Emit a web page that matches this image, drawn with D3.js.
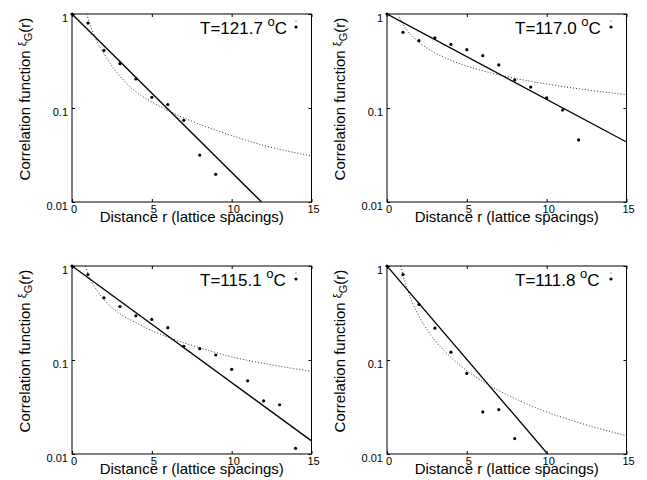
<!DOCTYPE html>
<html>
<head>
<meta charset="utf-8">
<script src="https://cdn.jsdelivr.net/npm/d3@7/dist/d3.min.js"></script>
<style>
  body { margin: 0; background: #fff; }
  text { font-family: "Liberation Sans", Arial, Helvetica, sans-serif; }
</style>
</head>
<body>
<script>
// temperatures shown in each panel
var temps = ["121.7", "117.0", "115.1", "111.8"];

// measured correlation values, r = 0, 1, 2, ...
var corr1 = [1, 0.80, 0.41, 0.296, 0.204, 0.130, 0.109, 0.074, 0.0316, 0.0197];
var corr2 = [1, 0.638, 0.52, 0.556, 0.476, 0.417, 0.36, 0.287, 0.199, 0.167, 0.128, 0.095, 0.0457];
var corr3 = [1, 0.81, 0.459, 0.371, 0.295, 0.27, 0.221, 0.14, 0.132, 0.113, 0.0795, 0.060, 0.0368, 0.0334, 0.0115];
var corr4 = [1, 0.81, 0.39, 0.218, 0.121, 0.072, 0.028, 0.0297, 0.0146];

// exponential fit (solid), end points
var expR = [[0, 11.87], [0, 15], [0, 15], [0, 10.06]];
var expV = [[1, 0.01], [1, 0.0435], [1, 0.0138], [1, 0.01]];

// power-law fit (dotted)
var powR1 = [0.92, 1, 1.5, 2, 3, 4, 5, 6, 8, 10, 12, 15];
var powV1 = [1, 0.9, 0.54, 0.38, 0.218, 0.149, 0.116, 0.094, 0.067, 0.051, 0.040, 0.031];
var powR2 = [0.67, 1, 1.5, 2, 3, 4, 5, 6, 8, 10, 12, 15];
var powV2 = [1, 0.776, 0.600, 0.500, 0.386, 0.322, 0.279, 0.249, 0.207, 0.180, 0.160, 0.139];
var powR3 = [0.86, 1, 1.5, 2, 3, 4, 5, 6, 8, 10, 12, 15];
var powV3 = [1, 0.83, 0.57, 0.44, 0.31, 0.25, 0.205, 0.175, 0.135, 0.108, 0.092, 0.0757];
var powR4 = [0.86, 1, 1.5, 2, 3, 4, 5, 6, 8, 10, 12, 15];
var powV4 = [1, 0.804, 0.446, 0.293, 0.162, 0.107, 0.077, 0.059, 0.039, 0.028, 0.0216, 0.0156];

var xTicks = [0, 5, 10, 15];
var yTicks = [1, 0.1, 0.01];

var corrs = [corr1, corr2, corr3, corr4];
var powR = [powR1, powR2, powR3, powR4];
var powV = [powV1, powV2, powV3, powV4];

var panelX = [72, 387, 72, 387],
    panelY = [14, 14, 266, 266],
    pw = 239.5,
    ph = 188;

var svg = d3.select("body").append("svg")
  .attr("width", 647)
  .attr("height", 480);

for (var p = 0; p < 4; p++) {
  drawPanel(p);
}

function drawPanel(p) {
  var g = svg.append("g")
    .attr("transform", "translate(" + panelX[p] + "," + panelY[p] + ")");

  var x = d3.scaleLinear().domain([0, 15]).range([0, pw]);
  var y = d3.scaleLog().domain([0.01, 1]).range([ph, 0]);

  g.append("clipPath").attr("id", "clip" + p)
    .append("rect").attr("width", pw).attr("height", ph);

  // axes with inward ticks on all four sides
  var bottom = g.append("g").attr("transform", "translate(0," + ph + ")")
    .call(d3.axisBottom(x).tickValues(xTicks).tickSizeInner(-3).tickSizeOuter(0).tickPadding(3));
  bottom.selectAll("text").attr("font-size", 11).attr("dx", 1.5);

  g.append("g")
    .call(d3.axisTop(x).tickValues(xTicks).tickSizeInner(-3).tickSizeOuter(0).tickFormat(""));

  var left = g.append("g")
    .call(d3.axisLeft(y).tickValues(yTicks).tickSizeInner(-3).tickSizeOuter(0).tickPadding(4)
      .tickFormat(function(d) { return String(d); }));
  left.selectAll("text").attr("font-size", 11).attr("dy", "0.65em");

  g.append("g").attr("transform", "translate(" + pw + ",0)")
    .call(d3.axisRight(y).tickValues(yTicks).tickSizeInner(-3).tickSizeOuter(0).tickFormat(""));

  g.selectAll(".domain").remove();
  g.selectAll(".tick line").attr("stroke", "#000");
  g.selectAll(".tick text").attr("fill", "#000");

  g.append("rect")
    .attr("width", pw).attr("height", ph)
    .attr("fill", "none").attr("stroke", "#000").attr("stroke-width", 1);

  var plot = g.append("g").attr("clip-path", "url(#clip" + p + ")");

  // power-law fit (dotted)
  var powPts = powR[p].map(function(r, i) { return [r, powV[p][i]]; });
  plot.append("path")
    .datum(powPts)
    .attr("fill", "none")
    .attr("stroke", "#333")
    .attr("stroke-width", 1)
    .attr("stroke-dasharray", "1,2")
    .attr("d", d3.line()
      .x(function(d) { return x(d[0]); })
      .y(function(d) { return y(d[1]); })
      .curve(d3.curveMonotoneX));

  // exponential fit (solid)
  var expPts = expR[p].map(function(r, i) { return [r, expV[p][i]]; });
  plot.append("path")
    .datum(expPts)
    .attr("fill", "none")
    .attr("stroke", "#000")
    .attr("stroke-width", 1.3)
    .attr("d", d3.line()
      .x(function(d) { return x(d[0]); })
      .y(function(d) { return y(d[1]); }));

  // data points
  g.selectAll(".pt")
    .data(corrs[p])
    .enter()
    .append("circle")
    .attr("class", "pt")
    .attr("cx", function(d, i) { return x(i); })
    .attr("cy", function(d) { return y(d); })
    .attr("r", 1.6)
    .attr("fill", "#000");

  // legend
  var title = g.append("text")
    .attr("x", 128)
    .attr("y", 20)
    .attr("font-size", 17)
    .attr("fill", "#000");
  title.append("tspan").text("T=" + temps[p] + " ");
  title.append("tspan").attr("font-size", 13).attr("dy", -8).text("o");
  title.append("tspan").attr("dy", 8).text("C");

  g.append("circle").attr("cx", 224).attr("cy", 13).attr("r", 1.6).attr("fill", "#000");
  g.append("circle").attr("cx", 224).attr("cy", 7).attr("r", 0.5).attr("fill", "#000");

  // axis labels
  g.append("text")
    .attr("x", pw / 2)
    .attr("y", ph + 19.5)
    .attr("text-anchor", "middle")
    .attr("font-size", 15)
    .attr("fill", "#000")
    .text("Distance r (lattice spacings)");

  var yl = g.append("text")
    .attr("transform", "translate(-42," + (ph / 2 - 9) + ") rotate(-90)")
    .attr("text-anchor", "middle")
    .attr("font-size", 15)
    .attr("fill", "#000");
  yl.append("tspan").text("Correlation function ");
  yl.append("tspan").attr("font-size", 11).attr("dy", -4).text("ξ");
  yl.append("tspan").attr("font-size", 11).attr("dy", 6).text("G");
  yl.append("tspan").attr("dy", -2).text("(r)");
}
</script>
</body>
</html>
